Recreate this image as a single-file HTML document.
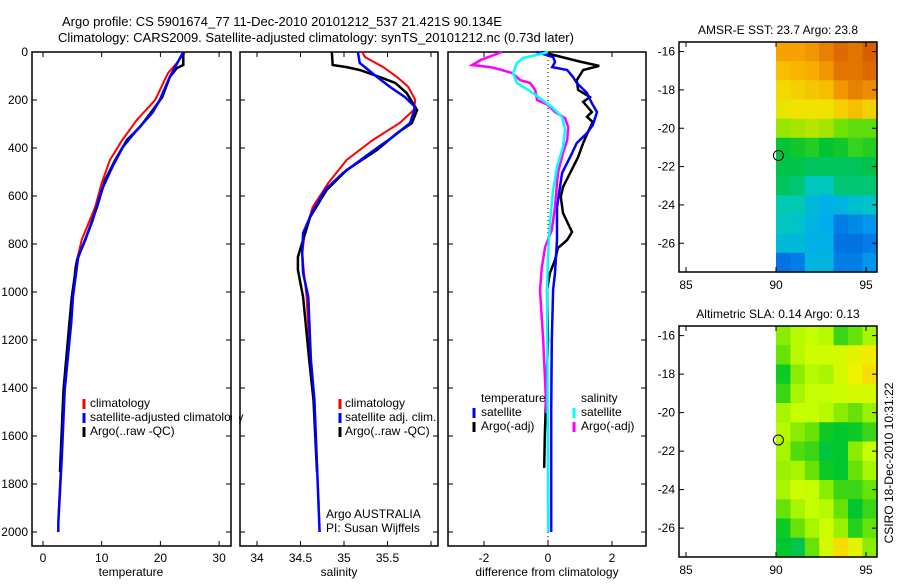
<!DOCTYPE html>
<html><head><meta charset="utf-8"><style>
body{margin:0;background:#fff;}
svg text{font-family:"Liberation Sans",sans-serif;font-size:12px;fill:#000;}
</style></head><body>
<svg id="c" width="900" height="580" viewBox="0 0 900 580" xmlns="http://www.w3.org/2000/svg">
<text x="62" y="26" style="font-size:13px">Argo profile: CS 5901674_77 11-Dec-2010 20101212_537 21.421S 90.134E</text>
<text x="58" y="42" style="font-size:13px">Climatology: CARS2009. Satellite-adjusted climatology: synTS_20101212.nc (0.73d later)</text>
<g id="g"></g>
</svg>
<script>
// ---- temperature profiles ----
const tClimD=[0,46,88,200,283,367,450,546,646,783,896,1021,1129,1408,1688,1950];
const tClimV=[24.2,22.8,21.3,19.1,16,13.5,11.4,10,8.9,6.6,5.5,5.1,4.8,3.7,3.1,2.6];
const tSatD=[0,63,104,200,254,325,396,479,575,713,854,1021,1129,1408,1688,1963,2000];
const tSatV=[23.9,22.5,21.6,19.9,18.6,16,13.6,11.8,10,8.3,6,5.1,4.8,3.7,3.2,2.6,2.6];
const tArgD=[0,54,67,104,188,242,313,367,450,533,646,783,867,1021,1129,1408,1688,1750];
const tArgV=[23.9,23.9,22.8,21.6,20.3,18.7,16.5,14.3,12.3,10.6,9.2,7.2,5.8,4.9,4.5,3.5,3.0,2.9];
// ---- salinity profiles ----
const sClimD=[0,21,63,104,146,200,242,296,367,450,546,646,754,838,921,1021,1283,1450,1890];
const sClimV=[35.21,35.24,35.45,35.61,35.74,35.82,35.8,35.64,35.33,35.03,34.82,34.64,34.55,34.52,34.54,34.57,34.61,34.66,34.71];
const sSatD=[0,46,75,104,146,188,229,296,354,421,504,575,671,754,838,921,1021,1283,1450,2000];
const sSatV=[35.16,35.18,35.28,35.38,35.53,35.7,35.82,35.76,35.56,35.3,34.99,34.78,34.63,34.53,34.52,34.53,34.59,34.62,34.66,34.72];
const sArgD=[0,54,63,75,104,129,171,242,296,338,408,492,575,688,783,854,908,1021,1283,1450,1750];
const sArgV=[34.86,34.87,35.03,35.18,35.41,35.59,35.72,35.84,35.78,35.61,35.38,35.03,34.8,34.61,34.53,34.47,34.47,34.53,34.6,34.65,34.69];
// ---- differences from climatology ----
const dTSatD=[0,21,42,63,75,104,129,171,213,250,304,338,379,438,504,646,783,921,992,1200,1500,1800,2000];
const dTSatV=[-0.35,0.16,0.22,0.13,0.6,0.78,0.9,1.22,1.37,1.53,1.4,1.22,0.9,0.69,0.44,0.28,0.28,0.22,0.16,0.12,0.1,0.1,0.1];
const dTArgD=[0,40,58,75,117,158,188,208,250,270,292,333,379,438,504,563,604,671,750,783,817,867,921,992,1200,1400,1600,1733];
const dTArgV=[-0.2,1.0,1.6,1.1,0.9,0.94,1.31,1.1,1.37,1.22,1.4,1.25,1.1,0.94,0.69,0.47,0.4,0.47,0.75,0.6,0.31,0.22,0.06,-0.03,0.0,-0.05,-0.1,-0.12];
const dSSatD=[0,12,25,46,88,129,158,192,229,271,325,396,479,575,713,854,992,1300,1700,2000];
const dSSatV=[0,-0.34,-0.78,-0.97,-1.09,-0.97,-0.62,-0.25,0.12,0.44,0.53,0.47,0.28,0.16,0.06,0,-0.03,-0.02,0,0.01];
const dSArgD=[0,33,54,63,75,88,117,129,158,200,221,250,275,313,367,421,504,646,742,813,896,992,1200,1400,1504];
const dSArgV=[-1.44,-2.1,-2.37,-1.8,-1.44,-1.12,-0.87,-0.56,-0.4,-0.34,0,0.22,0.53,0.63,0.6,0.47,0.31,0.22,0.12,-0.09,-0.19,-0.25,-0.15,-0.08,-0.05];
// ---- maps ----
const mapLons=[90,90.8,91.6,92.4,93.2,94,94.8];
const mapLats=[-15.5,-16.5,-17.5,-18.5,-19.5,-20.5,-21.5,-22.5,-23.5,-24.5,-25.5,-26.5];
const sst=[
[25.4,25.4,25.5,25.7,25.9,25.8,26.0],
[25.1,25.2,25.3,25.5,25.8,25.8,25.9],
[24.8,24.9,25.0,25.1,25.5,25.7,25.6],
[24.6,24.7,24.7,24.7,24.9,25.1,24.9],
[24.1,24.2,24.3,24.2,23.9,23.8,23.8],
[23.3,23.4,23.5,23.3,23.4,23.6,23.5],
[23.2,23.2,23.1,23.1,23.1,23.1,23.2],
[23.1,23.0,22.6,22.6,23.0,23.0,23.0],
[22.7,22.7,22.3,22.1,22.2,22.4,22.5],
[22.6,22.5,22.2,22.0,21.6,21.7,21.8],
[22.3,22.3,22.1,22.1,21.5,21.5,21.6],
[21.5,21.6,22.2,22.2,21.6,21.6,21.8]];
const sla=[
[0.12,0.15,0.16,0.15,0.08,0.1,0.14],
[0.1,0.15,0.17,0.17,0.18,0.2,0.22],
[0.06,0.12,0.15,0.14,0.18,0.21,0.24],
[0.08,0.14,0.16,0.16,0.17,0.18,0.18],
[0.14,0.16,0.16,0.15,0.12,0.1,0.13],
[0.15,0.12,0.1,0.06,0.05,0.06,0.08],
[0.14,0.09,0.08,0.04,0.05,0.12,0.16],
[0.13,0.14,0.1,0.06,0.05,0.1,0.14],
[0.14,0.17,0.16,0.12,0.08,0.08,0.1],
[0.1,0.14,0.16,0.15,0.1,0.05,0.08],
[0.06,0.1,0.14,0.17,0.13,0.07,0.1],
[0.05,0.03,0.1,0.18,0.24,0.2,0.12]];
const argoPos=[90.134,-21.421];
const depthTicks=[0,200,400,600,800,1000,1200,1400,1600,1800,2000];

const NS='http://www.w3.org/2000/svg';
const G=document.getElementById('g');
function mk(tag,at,parent){const e=document.createElementNS(NS,tag);for(const k in at)e.setAttribute(k,at[k]);(parent||G).appendChild(e);return e;}
const yD=d=>52+d*0.24;
function panel(x0,x1,y0,y1,name){
  const r=mk('rect',{x:x0,y:y0,width:x1-x0,height:y1-y0,fill:'none',stroke:'#000','stroke-width':1.5});
  
  
}
function line(D,V,xf,color,w,name){
  const pts=D.map((d,i)=>xf(V[i]).toFixed(1)+','+yD(d).toFixed(1)).join(' ');
  const p=mk('polyline',{points:pts,fill:'none',stroke:color,'stroke-width':w,'stroke-linejoin':'miter'});
  
  
}
function txt(x,y,s,name,anchor,extra){
  const t=mk('text',Object.assign({x:x,y:y,'text-anchor':anchor||'start'},extra||{}));t.textContent=s;
  
  
  return t;
}
function vt(x,y0,y1){mk('line',{x1:x,y1:y0,x2:x,y2:y0+5,stroke:'#000'});mk('line',{x1:x,y1:y1,x2:x,y2:y1-5,stroke:'#000'});}
function ht(y,x0,x1){mk('line',{x1:x0,y1:y,x2:x0+5,y2:y,stroke:'#000'});mk('line',{x1:x1,y1:y,x2:x1-5,y2:y,stroke:'#000'});}
function legbar(x,y,c){mk('line',{x1:x,y1:y-10,x2:x,y2:y,stroke:c,'stroke-width':3});}

// panel 1 temperature
const xT=v=>43+v*5.87;
panel(32,231,52,546,'temperature-panel');
depthTicks.forEach(d=>{ht(yD(d),32,231);txt(28,yD(d)+4,String(d),'depth-tick-label','end');});
[0,10,20,30].forEach(v=>{vt(xT(v),52,546);txt(xT(v),562,String(v),'temperature-tick-label','middle');});
txt(131,576,'temperature','x-axis-title-temperature','middle');
line(tClimD,tClimV,xT,'#f00',2,'temperature-climatology-line');
line(tArgD,tArgV,xT,'#000',2.5,'temperature-argo-line');
line(tSatD,tSatV,xT,'#00f',2.5,'temperature-satellite-line');
legbar(84,409,'#f00');txt(90,407,'climatology','legend-climatology');
legbar(84,423,'#00f');txt(90,421,'satellite-adjusted climatology','legend-satellite-adjusted');
legbar(84,437,'#000');txt(90,435,'Argo(..raw -QC)','legend-argo');
mk('rect',{x:232,y:380,width:7,height:70,fill:'#fff'});

// panel 2 salinity
const xS=v=>257+(v-34)*87;
panel(240,438,52,546,'salinity-panel');
depthTicks.forEach(d=>ht(yD(d),240,438));
[34,34.5,35,35.5,36].forEach(v=>vt(xS(v),52,546));
[34,34.5,35,35.5].forEach(v=>txt(xS(v),562,String(v),'salinity-tick-label','middle'));
txt(339,576,'salinity','x-axis-title-salinity','middle');
line(sClimD,sClimV,xS,'#f00',2,'salinity-climatology-line');
line(sArgD,sArgV,xS,'#000',2.5,'salinity-argo-line');
line(sSatD,sSatV,xS,'#00f',2.5,'salinity-satellite-line');
legbar(340,409,'#f00');txt(345,407,'climatology','legend-climatology-sal');
legbar(340,423,'#00f');txt(345,421,'satellite adj. clim.','legend-satellite-sal');
legbar(340,437,'#000');txt(345,435,'Argo(..raw -QC)','legend-argo-sal');
txt(326,518,'Argo AUSTRALIA','argo-australia-label');
txt(326,532,'PI: Susan Wijffels','pi-label');

// panel 3 differences
const xDf=v=>548+v*32;
panel(448,646,52,546,'difference-panel');
depthTicks.forEach(d=>ht(yD(d),448,646));
[-2,0,2].forEach(v=>{vt(xDf(v),52,546);txt(xDf(v),562,String(v),'difference-tick-label','middle');});
txt(547,576,'difference from climatology','x-axis-title-difference','middle');
mk('line',{x1:xDf(0),y1:52,x2:xDf(0),y2:546,stroke:'#000','stroke-dasharray':'1,3'});
line(dTArgD,dTArgV,xDf,'#000',2.5,'temp-argo-diff-line');
line(dTSatD,dTSatV,xDf,'#00f',2.5,'temp-satellite-diff-line');
line(dSArgD,dSArgV,xDf,'#f0f',2.5,'sal-argo-diff-line');
line(dSSatD,dSSatV,xDf,'#0ff',2.5,'sal-satellite-diff-line');
txt(481,402,'temperature','legend-temperature-heading');
txt(581,402,'salinity','legend-salinity-heading');
legbar(474,418,'#00f');txt(481,416,'satellite','legend-temp-satellite');
legbar(474,432,'#000');txt(481,430,'Argo(-adj)','legend-temp-argo');
legbar(574,418,'#0ff');txt(581,416,'satellite','legend-sal-satellite');
legbar(574,432,'#f0f');txt(581,430,'Argo(-adj)','legend-sal-argo');

// maps
function lerpC(stops,t){t=Math.max(0,Math.min(1,t));const n=stops.length-1;const i=Math.min(n-1,Math.floor(t*n));const f=t*n-i;const a=stops[i],b=stops[i+1];return 'rgb('+a.map((v,k)=>Math.round(v+(b[k]-v)*f)).join(',')+')';}
const sstStops=[[0,90,220],[0,170,240],[0,200,190],[0,195,50],[130,230,0],[240,230,0],[250,170,0],[215,95,0]];
const slaStops=[[0,190,120],[0,200,40],[120,230,0],[200,255,0],[240,240,0],[255,200,0]];
function map(top,bot,grid,vmin,vmax,stops,title,name){
  const x0=679,x1=877;
  const lx=l=>776+(l-90)*18;
  const sy=(bot-top)/12;
  const ylat=l=>top+(-15.5-l)*sy;
  grid.forEach((row,i)=>row.forEach((v,j)=>{
    const r=mk('rect',{x:lx(mapLons[j]).toFixed(1),y:ylat(mapLats[i]).toFixed(1),width:15,height:(sy+0.6).toFixed(1),fill:lerpC(stops,(v-vmin)/(vmax-vmin))});
    
    
  }));
  mk('rect',{x:877,y:top-2,width:10,height:bot-top+4,fill:'#fff'});
  panel(x0,x1,top,bot,name+'-frame');
  [85,90,95].forEach(l=>{vt(lx(l),top,bot);txt(lx(l),bot+17,String(l),name+'-lon-label','middle');});
  [-16,-18,-20,-22,-24,-26].forEach(l=>{const y=ylat(l);ht(y,x0,x1);txt(675,y+4,String(l),name+'-lat-label','end');});
  const c=mk('circle',{cx:lx(argoPos[0]),cy:ylat(argoPos[1]),r:5,fill:'none',stroke:'#000','stroke-width':1});
  
  
  txt(778,top-8,title,name+'-title','middle');
}
map(42,272,sst,21.3,26,sstStops,'AMSR-E SST: 23.7 Argo: 23.8','sst-map');
map(326,557,sla,0.0,0.27,slaStops,'Altimetric SLA: 0.14 Argo: 0.13','sla-map');
const rt=txt(0,0,'CSIRO 18-Dec-2010 10:31:22','timestamp-label','middle',{transform:'translate(893,463) rotate(-90)'});
</script>
</body></html>
